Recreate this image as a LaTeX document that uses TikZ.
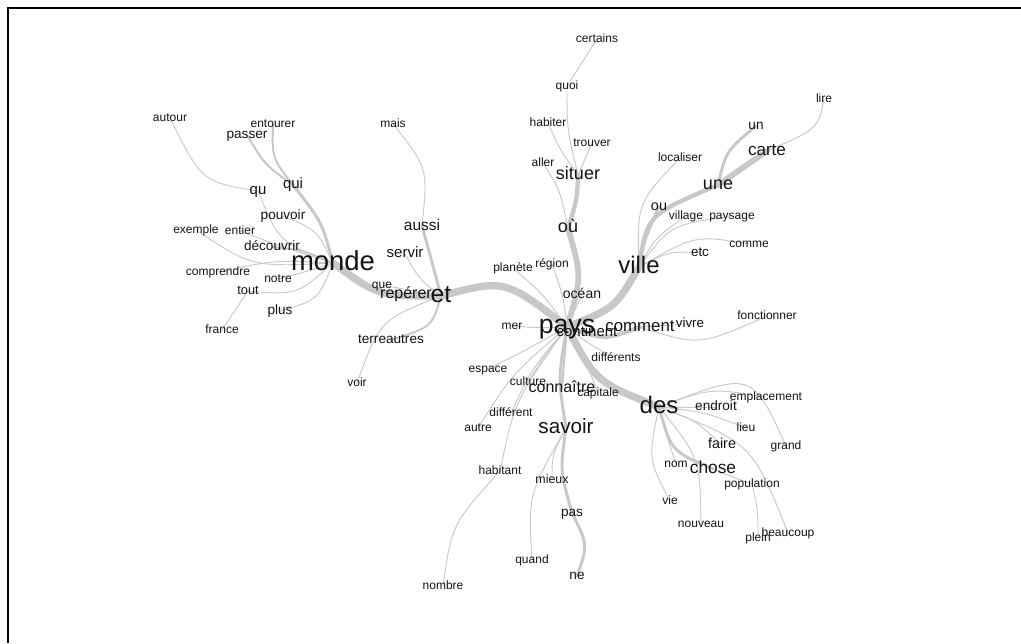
\documentclass[tikz,border=0pt]{standalone}
\usepackage{fontspec}
\setmainfont{Liberation Sans}
\usetikzlibrary{backgrounds}
\definecolor{edgec}{RGB}{200,200,200}
\definecolor{txtc}{RGB}{20,20,20}
\tikzset{
  lbl/.style={inner sep=0pt, text=txtc, fs=9},
  fs/.code={%
    \pgfmathsetmacro\myh{0.72*#1}%
    \pgfmathsetmacro\myd{0.2*#1}%
    \edef\mytmp{\noexpand\pgfkeysalso{/tikz/text height=\myh pt,/tikz/text depth=\myd pt}}%
    \mytmp
    \pgfkeysalso{/tikz/font=\fontsize{#1}{#1}\selectfont}},
  ed/.style={draw=edgec, line cap=round},
  e0/.style={ed, line width=0.7pt},
  e1/.style={ed, line width=1.5pt},
  e2/.style={ed, line width=2.2pt},
  e3/.style={ed, line width=3.2pt},
  e4/.style={ed, line width=4.3pt},
  e5/.style={ed, line width=5.5pt},
}
\begin{document}
\begin{tikzpicture}[x=0.75pt,y=-0.75pt]
\useasboundingbox (0,0) rectangle (1021,643);
\draw[line width=1.5pt] (8,643) -- (8,8) -- (1021,8);

% ---------- left cluster ----------
\node[lbl] (autour) at (170,118) {autour};
\node[lbl] (entourer) at (273,124) {entourer};
\node[lbl,fs=10.2] (passer) at (247,135) {passer};
\node[lbl] (mais) at (393,124) {mais};
\node[lbl,fs=11.2] (qui) at (293,185) {qui};
\node[lbl,fs=11.2] (qu) at (258,191) {qu};
\node[lbl,fs=10.2] (pouvoir) at (283,216) {pouvoir};
\node[lbl] (exemple) at (196,230) {exemple};
\node[lbl] (entier) at (240,231) {entier};
\node[lbl,fs=10.2] (decouvrir) at (272,247) {découvrir};
\node[lbl,fs=20.6] (monde) at (333,263) {monde};
\node[lbl,fs=11.6] (aussi) at (422,226) {aussi};
\node[lbl,fs=11.3] (servir) at (405,254) {servir};
\node[lbl] (comprendre) at (218,272) {comprendre};
\node[lbl] (notre) at (278,279) {notre};
\node[lbl,fs=9.6] (tout) at (248,291) {tout};
\node[lbl] (que) at (382,285) {que};
\node[lbl,fs=12] (reperer) at (406,294) {repérer};
\node[lbl,fs=18.5] (et) at (441,296) {et};
\node[lbl,fs=10.2] (plus) at (280,311) {plus};
\node[lbl] (france) at (222,330) {france};
\node[lbl,fs=10.2] (terreautres) at (391,340) {terreautres};
\node[lbl] (voir) at (357,383) {voir};

% ---------- top center ----------
\node[lbl] (certains) at (597,39) {certains};
\node[lbl] (quoi) at (567,86) {quoi};
\node[lbl] (habiter) at (548,123) {habiter};
\node[lbl] (trouver) at (592,143) {trouver};
\node[lbl] (aller) at (543,163) {aller};
\node[lbl,fs=13.5] (situer) at (578,175) {situer};
\node[lbl,fs=13.5] (ou) at (568,228) {où};
\node[lbl] (planete) at (513,268) {planète};
\node[lbl] (region) at (552,264) {région};
\node[lbl,fs=10.5] (ocean) at (582,295) {océan};
\node[lbl,fs=18] (ville) at (639,267) {ville};

% ---------- top right ----------
\node[lbl] (lire) at (824,99) {lire};
\node[lbl,fs=10.2] (un) at (756,126) {un};
\node[lbl,fs=12.8] (carte) at (767,151) {carte};
\node[lbl] (localiser) at (680,158) {localiser};
\node[lbl,fs=13.5] (une) at (718,185) {une};
\node[lbl,fs=10.8] (ouu) at (659,207) {ou};
\node[lbl] (village) at (686,216) {village};
\node[lbl] (paysage) at (732,216) {paysage};
\node[lbl] (comme) at (749,244) {comme};
\node[lbl,fs=10] (etc) at (700,253) {etc};

% ---------- middle ----------
\node[lbl] (mer) at (512,326) {mer};
\node[lbl,fs=11.2] (continent) at (587,333) {continent};
\node[lbl,fs=20] (pays) at (567,327) {pays};
\node[lbl,fs=12.6] (comment) at (640,327) {comment};
\node[lbl,fs=10] (vivre) at (690,324) {vivre};
\node[lbl] (fonctionner) at (767,316) {fonctionner};
\node[lbl] (differents) at (616,358) {différents};
\node[lbl] (espace) at (488,369) {espace};
\node[lbl] (culture) at (528,382) {culture};
\node[lbl,fs=12] (connaitre) at (562,388) {connaître};
\node[lbl] (capitale) at (598,393) {capitale};
\node[lbl,fs=18] (des) at (659,407) {des};
\node[lbl] (emplacement) at (766,397) {emplacement};
\node[lbl,fs=10.2] (endroit) at (716,407) {endroit};
\node[lbl] (different) at (511,413) {différent};
\node[lbl] (autre) at (478,428) {autre};
\node[lbl,fs=15.5] (savoir) at (566,428) {savoir};
\node[lbl] (lieu) at (746,428) {lieu};
\node[lbl] (grand) at (786,446) {grand};
\node[lbl,fs=10.8] (faire) at (722,445) {faire};
\node[lbl] (nom) at (676,464) {nom};
\node[lbl,fs=13] (chose) at (713,469) {chose};
\node[lbl] (population) at (752,484) {population};
\node[lbl] (habitant) at (500,471) {habitant};
\node[lbl,fs=9.3] (mieux) at (552,480) {mieux};
\node[lbl] (vie) at (670,501) {vie};
\node[lbl,fs=10.2] (pas) at (572,513) {pas};
\node[lbl] (nouveau) at (701,524) {nouveau};
\node[lbl] (beaucoup) at (788,533) {beaucoup};
\node[lbl] (plein) at (758,538) {plein};
\node[lbl] (quand) at (532,560) {quand};
\node[lbl,fs=10.2] (ne) at (577,576) {ne};
\node[lbl] (nombre) at (443,586) {nombre};

\begin{pgfonlayer}{background}
% monde
\draw[e5] (monde.center) .. controls (378,296) .. (et.center);
\draw[e2] (monde.center) .. controls (322,222) .. (qui.center);
\draw[e1] (qui.center) .. controls (265,165) .. (passer.center);
\draw[e1] (qui.center) .. controls (272,158) .. (entourer.center);
\draw[e0] (monde.center) .. controls (279,242) .. (qu.center);
\draw[e0] (qu.center) .. controls (202,182) .. (autour.center);
\draw[e0] (monde.center) .. controls (317,230) .. (pouvoir.center);
\draw[e0] (monde.center) .. controls (285,248) .. (entier.center);
\draw[e0] (monde.center) .. controls (252,267) .. (exemple.center);
\draw[e1] (monde.center) .. controls (302,250) .. (decouvrir.center);
\draw[e0] (monde.center) .. controls (275,260) .. (comprendre.center);
\draw[e0] (monde.center) .. controls (305,272) .. (notre.center);
\draw[e0] (monde.center) .. controls (297,295) .. (tout.center);
\draw[e0] (tout.center) .. controls (235,310) .. (france.center);
\draw[e0] (monde.center) .. controls (318,300) .. (plus.center);
% et
\draw[e5] (et.center) .. controls (505,279) .. (pays.center);
\draw[e2] (et.center) .. controls (432,262) .. (aussi.center);
\draw[e0] (aussi.center) .. controls (428,168) .. (mais.center);
\draw[e0] (et.center) .. controls (419,279) .. (servir.center);
\draw[e0] (et.center) -- (que.center);
\draw[e0] (et.center) -- (reperer.center);
\draw[e1] (et.center) .. controls (432,327) .. (terreautres.center);
\draw[e0] (et.center) .. controls (380,320) .. (voir.center);
% ou / situer
\draw[e4] (pays.center) .. controls (582,277) .. (ou.center);
\draw[e3] (ou.center) .. controls (577,200) .. (situer.center);
\draw[e0] (situer.center) .. controls (585,159) .. (trouver.center);
\draw[e0] (situer.center) .. controls (560,150) .. (habiter.center);
\draw[e0] (situer.center) .. controls (567,130) .. (quoi.center);
\draw[e0] (quoi.center) .. controls (582,62) .. (certains.center);
\draw[e0] (ou.center) .. controls (560,190) .. (aller.center);
\draw[e0] (pays.center) .. controls (543,294) .. (planete.center);
\draw[e0] (pays.center) .. controls (563,295) .. (region.center);
\draw[e0] (pays.center) .. controls (575,311) .. (ocean.center);
% ville
\draw[e5] (pays.center) .. controls (615,308) .. (ville.center);
\draw[e3] (ville.center) .. controls (647,215) .. (une.center);
\draw[e4] (une.center) .. controls (742,168) .. (carte.center);
\draw[e0] (carte.center) .. controls (818,129) .. (lire.center);
\draw[e2] (une.center) .. controls (726,151) .. (un.center);
\draw[e2] (ville.center) .. controls (645,238) .. (ouu.center);
\draw[e0] (ville.center) .. controls (637,203) .. (localiser.center);
\draw[e0] (ville.center) .. controls (655,238) .. (village.center);
\draw[e0] (ville.center) .. controls (670,225) .. (paysage.center);
\draw[e0] (ville.center) .. controls (695,235) .. (comme.center);
\draw[e0] (ville.center) .. controls (670,251) .. (etc.center);
% pays others
\draw[e3] (pays.center) .. controls (605,340) .. (comment.center);
\draw[e0] (pays.center) -- (continent.center);
\draw[e0] (comment.center) -- (vivre.center);
\draw[e0] (comment.center) .. controls (699,346) .. (fonctionner.center);
\draw[e0] (pays.center) .. controls (540,328) .. (mer.center);
\draw[e0] (pays.center) .. controls (590,345) .. (differents.center);
\draw[e0] (pays.center) .. controls (524,351) .. (espace.center);
\draw[e0] (pays.center) .. controls (545,355) .. (culture.center);
\draw[e0] (pays.center) .. controls (531,370) .. (different.center);
\draw[e0] (pays.center) .. controls (512,374) .. (autre.center);
\draw[e0] (pays.center) .. controls (515,400) .. (habitant.center);
\draw[e0] (habitant.center) .. controls (452,524) .. (nombre.center);
\draw[e1] (pays.center) .. controls (565,358) .. (connaitre.center);
\draw[e0] (pays.center) .. controls (585,360) .. (capitale.center);
\draw[e2] (pays.center) .. controls (558,378) .. (savoir.center);
\draw[e0] (savoir.center) .. controls (552,455) .. (mieux.center);
\draw[e0] (savoir.center) .. controls (528,495) .. (quand.center);
\draw[e2] (savoir.center) .. controls (560,470) .. (pas.center);
\draw[e2] (pas.center) .. controls (588,545) .. (ne.center);
% des
\draw[e5] (pays.center) .. controls (596,382) .. (des.center);
\draw[e0] (des.center) .. controls (710,388) .. (emplacement.center);
\draw[e0] (des.center) -- (endroit.center);
\draw[e0] (des.center) .. controls (705,412) .. (lieu.center);
\draw[e0] (des.center) .. controls (752,371) .. (grand.center);
\draw[e0] (des.center) .. controls (695,420) .. (faire.center);
\draw[e0] (des.center) .. controls (668,440) .. (nom.center);
\draw[e2] (des.center) .. controls (671,451) .. (chose.center);
\draw[e0] (des.center) .. controls (648,459) .. (vie.center);
\draw[e0] (des.center) .. controls (700,458) .. (nouveau.center);
\draw[e0] (chose.center) .. controls (735,478) .. (population.center);
\draw[e0] (population.center) .. controls (758,510) .. (plein.center);
\draw[e0] (des.center) .. controls (752,443) .. (beaucoup.center);
\end{pgfonlayer}
\end{tikzpicture}
\end{document}
